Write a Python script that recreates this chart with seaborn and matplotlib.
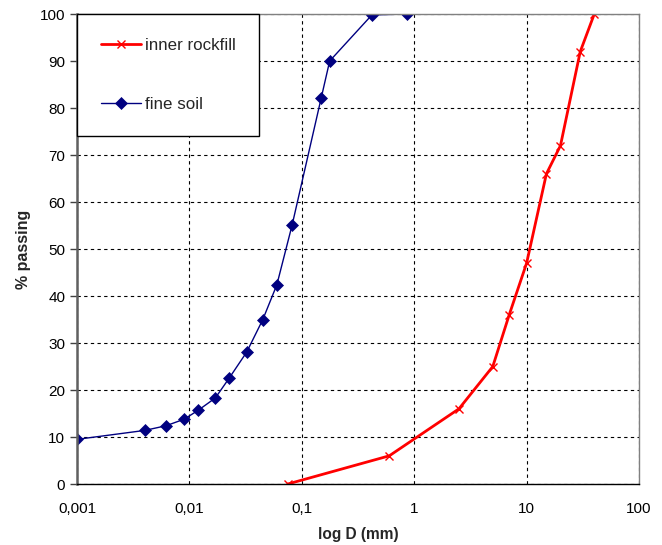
import matplotlib
matplotlib.use("Agg")
import matplotlib.pyplot as plt
from matplotlib.ticker import FuncFormatter, LogLocator, MultipleLocator
import pandas as pd
import seaborn as sns

# grain size curves
fine_d = [0.001, 0.004, 0.0062, 0.009, 0.012, 0.017, 0.0227, 0.0324, 0.045, 0.06,
          0.082, 0.149, 0.177, 0.42, 0.86]
fine_pass = [9.5, 11.4, 12.4, 13.8, 15.7, 18.3, 22.6, 28.1, 35.0, 42.4,
             55.1, 82.2, 90.0, 99.8, 100.0]

rock_d = [0.075, 0.6, 2.5, 5, 7, 10, 15, 20, 30, 40]
rock_pass = [0, 6.0, 16.0, 25.0, 36.0, 47.0, 66.0, 72.0, 92.0, 100.0]

x_ticks = [0.001, 0.01, 0.1, 1, 10, 100]


def main():
    fine = pd.DataFrame({"D": fine_d, "passing": fine_pass})
    rock = pd.DataFrame({"D": rock_d, "passing": rock_pass})

    sns.set_theme(style="white")
    plt.rcParams["font.family"] = ["Liberation Sans", "DejaVu Sans"]
    plt.rcParams["font.size"] = 11

    fig = plt.figure(figsize=(6.62, 5.45), dpi=100)
    ax = fig.add_axes([0.1163, 0.1119, 0.8490, 0.8624])

    sns.lineplot(data=rock, x="D", y="passing", sort=False, ax=ax,
                 color="#ff0000", linewidth=2, marker="x", markersize=5.5,
                 markeredgecolor="#ff0000", markeredgewidth=1,
                 label="inner rockfill")
    sns.lineplot(data=fine, x="D", y="passing", sort=False, ax=ax,
                 color="#000080", linewidth=1, marker="D", markersize=6.5,
                 markeredgecolor="#000080", markerfacecolor="#000080",
                 markeredgewidth=0.5, label="fine soil")

    ax.set_xscale("log")
    ax.set_xlim(0.001, 100)
    ax.set_ylim(0, 100)
    ax.set_xticks(x_ticks)
    ax.xaxis.set_major_formatter(FuncFormatter(lambda v, p: f"{v:g}".replace(".", ",")))
    ax.xaxis.set_minor_locator(LogLocator(base=10, subs=range(2, 10)))
    ax.xaxis.set_minor_formatter(FuncFormatter(lambda v, p: ""))
    ax.yaxis.set_major_locator(MultipleLocator(10))

    ax.grid(True, which="major", color="black", linestyle=(0, (3, 3)), linewidth=0.8)
    ax.tick_params(axis="x", which="major", direction="inout", length=8, width=1,
                   color="black", labelsize=11, pad=9)
    ax.tick_params(axis="x", which="minor", direction="in", length=3, width=0.8,
                   color="black")
    ax.tick_params(axis="y", which="major", direction="out", length=5, width=1,
                   color="#404040", labelsize=11, pad=3.5, left=True)
    ax.tick_params(axis="both", labelcolor="black")

    for side in ["top", "right"]:
        ax.spines[side].set_color("#808080")
        ax.spines[side].set_linewidth(1)
    ax.spines["left"].set_color("#606060")
    ax.spines["left"].set_linewidth(1.8)
    ax.spines["bottom"].set_color("black")
    ax.spines["bottom"].set_linewidth(1)

    ax.set_xlabel("log D (mm)", fontweight="bold", fontsize=11.2, labelpad=8)
    ax.set_ylabel("% passing", fontweight="bold", fontsize=11.5, labelpad=6)

    leg = ax.legend(loc="upper left", bbox_to_anchor=(0, 1), borderaxespad=0,
                    frameon=True, fancybox=False, edgecolor="black",
                    borderpad=1.4, labelspacing=2.6, handlelength=2.4,
                    handletextpad=0.2, fontsize=12.2)
    leg.get_frame().set_linewidth(1)
    leg.get_frame().set_alpha(1)

    fig.savefig("out.png", dpi=100)


if __name__ == "__main__":
    main()
